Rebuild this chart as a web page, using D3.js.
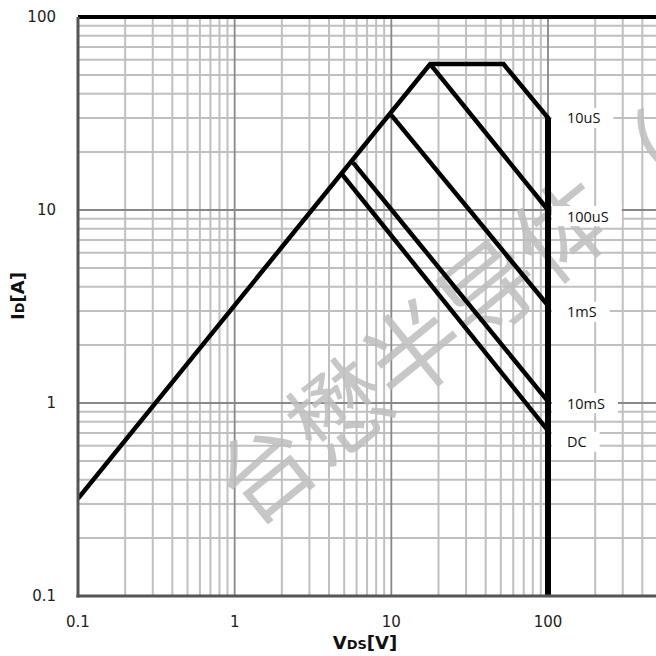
<!DOCTYPE html>
<html>
<head>
<meta charset="utf-8">
<script src="https://cdn.jsdelivr.net/npm/d3@7/dist/d3.min.js"></script>
<style>
  html, body { margin: 0; padding: 0; background: #fff; }
  svg { display: block; }
</style>
</head>
<body>
<svg id="chart" width="656" height="656"></svg>
<script>
// ---- data ----
const xTickLabels = [0.1, 1, 10, 100];
const yTickLabels = [0.1, 1, 10, 100];

// SOA outer boundary (Rds(on) limit, 10us, current limit, BVdss)
const boundaryV = [0.1, 17.7, 52, 100, 100];
const boundaryI = [0.32, 57, 57, 30, 0.1];

const pulseNames = ["100uS", "1mS", "10mS", "DC"];
const pulseStartV = [17.7, 10, 5.7, 4.85];
const pulseStartI = [57, 31, 17.6, 15.3];
const pulseEndV = [100, 100, 100, 100];
const pulseEndI = [10, 3.2, 1.02, 0.72];

const labelTexts = ["10uS", "100uS", "1mS", "10mS", "DC"];
const labelI = [30, 9.3, 2.97, 1.0, 0.63];

const watermark = "台懋半导体（";

// ---- layout ----
const svg = d3.select("#chart");
const M = { left: 78, top: 17, bottom: 596, right: 656 };

const x = d3.scaleLog().domain([0.1, 100]).range([M.left, 548]);
const y = d3.scaleLog().domain([0.1, 100]).range([M.bottom, M.top]);

const xMaxVal = x.invert(M.right);
const gridX = x.copy().domain([0.1, 1000]).ticks().filter(v => v <= xMaxVal + 1e-9);
const gridY = y.ticks();
const isMajor = v => Math.abs(Math.log10(v) - Math.round(Math.log10(v))) < 1e-6;

// clip
svg.append("defs").append("clipPath").attr("id", "plotclip")
  .append("rect").attr("x", M.left).attr("y", M.top)
  .attr("width", M.right - M.left).attr("height", M.bottom - M.top);

const grid = svg.append("g").attr("clip-path", "url(#plotclip)");
grid.selectAll("line.vx").data(gridX.filter(v => !isMajor(v))).join("line")
  .attr("class", "vx")
  .attr("x1", d => x(d)).attr("x2", d => x(d)).attr("y1", M.top).attr("y2", M.bottom)
  .attr("stroke", "#c0c0c0").attr("stroke-width", 2);
grid.selectAll("line.hy").data(gridY.filter(v => !isMajor(v))).join("line")
  .attr("class", "hy")
  .attr("y1", d => y(d)).attr("y2", d => y(d)).attr("x1", M.left).attr("x2", M.right)
  .attr("stroke", "#c0c0c0").attr("stroke-width", 2);
grid.selectAll("line.mx").data(gridX.filter(isMajor)).join("line")
  .attr("class", "mx")
  .attr("x1", d => x(d)).attr("x2", d => x(d)).attr("y1", M.top).attr("y2", M.bottom)
  .attr("stroke", "#888").attr("stroke-width", 1.8);
grid.selectAll("line.my").data(gridY.filter(isMajor)).join("line")
  .attr("class", "my")
  .attr("y1", d => y(d)).attr("y2", d => y(d)).attr("x1", M.left).attr("x2", M.right)
  .attr("stroke", "#888").attr("stroke-width", 1.8);

// watermark
const wm = svg.append("g").attr("clip-path", "url(#plotclip)");
wm.append("text")
  .attr("transform", "translate(261,467) rotate(-39)")
  .attr("x", -48).attr("y", 0)
  .attr("dominant-baseline", "central")
  .attr("font-family", "'Noto Sans CJK SC', sans-serif")
  .attr("font-size", 96)
  .attr("fill", "#bdbdbd")
  .attr("fill-opacity", 0.85)
  .text(watermark);

// labels with white boxes
const lab = svg.append("g");
labelTexts.forEach((t, i) => {
  const g = lab.append("g");
  const txt = g.append("text")
    .attr("x", 567).attr("y", y(labelI[i]))
    .attr("dominant-baseline", "central")
    .attr("font-family", "'Open Sans', sans-serif")
    .attr("font-size", 14.5)
    .attr("fill", "#111")
    .text(t);
  const bb = txt.node().getBBox();
  g.insert("rect", "text")
    .attr("x", bb.x - 15).attr("y", y(labelI[i]) - 10)
    .attr("width", bb.width + 28).attr("height", 20)
    .attr("fill", "#fff");
});

// series
const lineGen = d3.line().x(d => x(d[0])).y(d => y(d[1]));
const series = svg.append("g").attr("clip-path", "url(#plotclip)");
series.append("path")
  .datum(boundaryV.map((v, i) => [v, boundaryI[i]]))
  .attr("d", lineGen)
  .attr("fill", "none").attr("stroke", "#000").attr("stroke-width", 4.5)
  .attr("stroke-linejoin", "miter");
series.append("path")
  .datum([[boundaryV[3], boundaryI[3]], [boundaryV[4], boundaryI[4]]])
  .attr("d", lineGen)
  .attr("fill", "none").attr("stroke", "#000").attr("stroke-width", 6);
pulseNames.forEach((n, i) => {
  series.append("path")
    .datum([[pulseStartV[i], pulseStartI[i]], [pulseEndV[i], pulseEndI[i]]])
    .attr("d", lineGen)
    .attr("fill", "none").attr("stroke", "#000").attr("stroke-width", 4.5);
});

// frame
svg.append("line").attr("x1", M.left).attr("x2", M.right).attr("y1", M.top).attr("y2", M.top)
  .attr("stroke", "#000").attr("stroke-width", 4);
svg.append("line").attr("x1", M.left).attr("x2", M.left).attr("y1", M.top).attr("y2", M.bottom + 1.5)
  .attr("stroke", "#555").attr("stroke-width", 3);
svg.append("line").attr("x1", M.left - 1.5).attr("x2", M.right).attr("y1", M.bottom).attr("y2", M.bottom)
  .attr("stroke", "#555").attr("stroke-width", 3);

// tick labels
const tickFont = "'DejaVu Sans', sans-serif";
svg.append("g").selectAll("text").data(yTickLabels).join("text")
  .attr("x", 56).attr("y", d => y(d))
  .attr("text-anchor", "end").attr("dominant-baseline", "central")
  .attr("font-family", tickFont).attr("font-size", 15).attr("fill", "#222")
  .text(d => d3.format("~g")(d));
svg.append("g").selectAll("text").data(xTickLabels).join("text")
  .attr("x", d => x(d)).attr("y", 622)
  .attr("text-anchor", "middle").attr("dominant-baseline", "central")
  .attr("font-family", tickFont).attr("font-size", 15).attr("fill", "#222")
  .text(d => d3.format("~g")(d));

// axis titles
const xt = svg.append("text")
  .attr("x", 365).attr("y", 649)
  .attr("text-anchor", "middle")
  .attr("font-family", "'DejaVu Sans', sans-serif").attr("font-weight", "bold")
  .attr("fill", "#111");
xt.append("tspan").attr("font-size", 18).text("V");
xt.append("tspan").attr("font-size", 13).text("DS");
xt.append("tspan").attr("font-size", 18).text("[V]");

const yt = svg.append("text")
  .attr("transform", "translate(24,296) rotate(-90)")
  .attr("text-anchor", "middle")
  .attr("font-family", "'DejaVu Sans', sans-serif").attr("font-weight", "bold")
  .attr("fill", "#111");
yt.append("tspan").attr("font-size", 18).text("I");
yt.append("tspan").attr("font-size", 13).text("D");
yt.append("tspan").attr("font-size", 18).text("[A]");
</script>
</body>
</html>
